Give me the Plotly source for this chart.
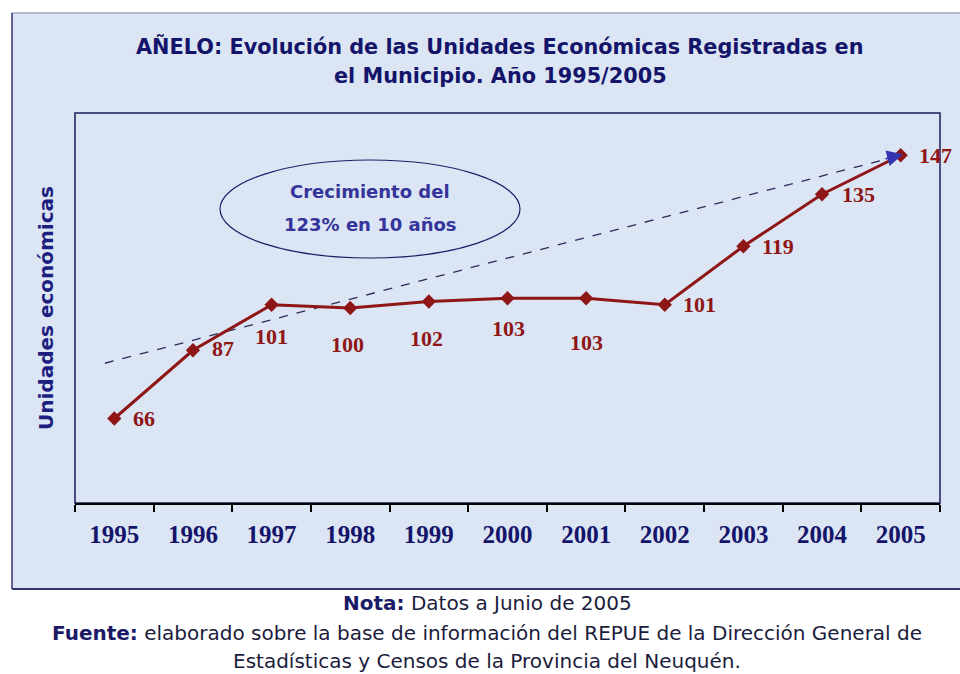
import plotly.graph_objects as go

# Registered economic units in Añelo, 1995-2005
years = [1995, 1996, 1997, 1998, 1999, 2000, 2001, 2002, 2003, 2004, 2005]
units = [66, 87, 101, 100, 102, 103, 103, 101, 119, 135, 147]
year_labels = [str(y) for y in years]

# Trend arrow drawn over the series (start and tip)
trend_years = [1994.88, 2004.85]
trend_values = [83, 146]
arrow_tip = (2005.03, 147.3)

title_lines = [
    "AÑELO: Evolución de las Unidades Económicas Registradas en",
    "el Municipio. Año 1995/2005",
]
callout_lines = ["Crecimiento del", "123% en 10 años"]
y_title = "Unidades económicas"
note_lines = [
    "<b><span style='color:#1a1a66'>Nota:</span></b> Datos a Junio de 2005",
    "<b><span style='color:#1a1a66'>Fuente:</span></b> elaborado sobre la base de información del REPUE de la Dirección General de",
    "Estadísticas y Censos de la Provincia del Neuquén.",
]

# label offsets (px) relative to each point
label_shift = [(30, 0), (30, 2), (0, -32), (-3, -36), (-2, -37), (1, -30),
               (0, -44), (35, 0), (35, 0), (36, 0), (35, 0)]

LINE_RED = "#8e1616"
NAVY = "#14146a"
BG = "#dbe5f3"

fig = go.Figure()

fig.add_trace(go.Scatter(
    x=trend_years, y=trend_values, mode="lines",
    line=dict(color="#2c2c5c", width=1.3, dash="dash"),
    hoverinfo="skip", showlegend=False,
))

fig.add_trace(go.Scatter(
    x=years, y=units, mode="lines+markers",
    line=dict(color=LINE_RED, width=3),
    marker=dict(symbol="diamond", size=11, color=LINE_RED),
    showlegend=False,
))

W, H = 960, 674
L, R, T, B = 75, 20, 113, 171
pw, ph = W - L - R, H - T - B


def px(xpix):
    return (xpix - L) / pw


def py(ypix):
    return (H - B - ypix) / ph


def paper_text(xpix, ypix, text, font, **kw):
    return dict(x=px(xpix), y=py(ypix), xref="paper", yref="paper",
                xanchor="center", yanchor="middle", text=text,
                showarrow=False, font=font, **kw)


annotations = []

# value labels
for yr, v, (dx, dy) in zip(years, units, label_shift):
    annotations.append(dict(
        x=yr, y=v, xref="x", yref="y", text=f"<b>{v}</b>", showarrow=False,
        xanchor="center", yanchor="middle", xshift=dx, yshift=dy,
        font=dict(family="Liberation Serif", size=22, color=LINE_RED),
    ))

# arrow head at the end of the trend line
annotations.append(dict(
    x=arrow_tip[0], y=arrow_tip[1], xref="x", yref="y",
    ax=-19, ay=5, axref="pixel", ayref="pixel",
    showarrow=True, arrowhead=2, arrowsize=1.6, arrowwidth=2,
    arrowcolor="#3434b0", text="", standoff=0,
))

# title
for line, ypix in zip(title_lines, [47, 76]):
    annotations.append(paper_text(
        500, ypix, f"<b>{line}</b>",
        dict(family="DejaVu Sans", size=20.8, color=NAVY)))

# callout text inside the ellipse
for line, ypix in zip(callout_lines, [191, 224]):
    annotations.append(paper_text(
        370, ypix, f"<b>{line}</b>",
        dict(family="DejaVu Sans", size=18, color="#34349a")))

# y axis title
annotations.append(paper_text(
    46, 308, f"<b>{y_title}</b>",
    dict(family="DejaVu Sans", size=20, color="#1e1e80"), textangle=-90))

# notes under the chart
for line, ypix in zip(note_lines, [603, 633, 661]):
    annotations.append(paper_text(
        487, ypix, line,
        dict(family="DejaVu Sans", size=20, color="#1c1c3c")))

shapes = [
    # chart background panel
    dict(type="rect", xref="paper", yref="paper", layer="below",
         x0=px(12), x1=px(966), y0=py(589), y1=py(13),
         fillcolor=BG, line=dict(width=0)),
    dict(type="line", xref="paper", yref="paper", layer="below",
         x0=px(12), x1=px(966), y0=py(13), y1=py(13),
         line=dict(color="#a4a8b8", width=1.5)),
    dict(type="line", xref="paper", yref="paper", layer="below",
         x0=px(12), x1=px(12), y0=py(13), y1=py(589),
         line=dict(color="#34346e", width=1.5)),
    dict(type="line", xref="paper", yref="paper", layer="below",
         x0=px(12), x1=px(966), y0=py(589), y1=py(589),
         line=dict(color="#34346e", width=2)),
    # plot area frame
    dict(type="rect", xref="paper", yref="paper", layer="below",
         x0=0, x1=1, y0=0, y1=1, line=dict(color="#1c1c5c", width=1.5)),
    # callout ellipse
    dict(type="circle", xref="paper", yref="paper",
         x0=px(220), x1=px(520), y0=py(258), y1=py(160),
         line=dict(color="#1e1e66", width=1.2)),
]

fig.update_layout(
    width=W, height=H,
    margin=dict(l=L, r=R, t=T, b=B),
    paper_bgcolor="white",
    plot_bgcolor="rgba(0,0,0,0)",
    showlegend=False,
    annotations=annotations,
    shapes=shapes,
    xaxis=dict(
        range=[1994.5, 2005.5],
        tickmode="array", tickvals=years, ticktext=[f"<b>{t}</b>" for t in year_labels],
        ticks="outside", ticklen=8, tickcolor="rgba(0,0,0,0)",
        tickfont=dict(family="Liberation Serif", size=25, color=NAVY),
        showline=True, linecolor="black", linewidth=1.5,
        showgrid=False, zeroline=False,
        minor=dict(tick0=1994.5, dtick=1, ticks="outside", ticklen=7,
                   tickcolor="black", tickwidth=1.5, showgrid=False),
    ),
    yaxis=dict(
        range=[40, 160], showticklabels=False, ticks="",
        showgrid=False, zeroline=False, showline=False,
    ),
)

fig.write_html("out.html")
